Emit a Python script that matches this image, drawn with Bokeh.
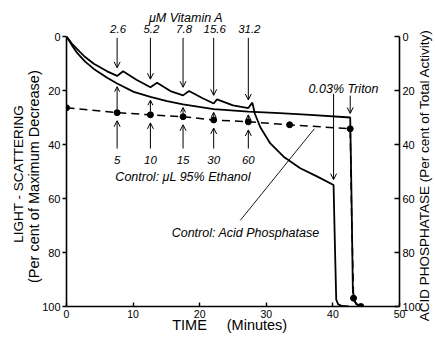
import math
import numpy as np
from bokeh.plotting import figure
from bokeh.models import Range1d, LinearAxis, Label, Arrow, OpenHead, FixedTicker
from bokeh.core.properties import value
from bokeh.embed import file_html
from bokeh.resources import INLINE

# ---------------- data ----------------
# Light scattering with Vitamin A additions (per cent of maximum decrease)
vita_t = [0, 0.8, 1.6, 2.8, 4.1, 6.1, 7.6, 8.5, 10.5, 12.6, 13.6, 15.6, 17.5, 18.4, 20.3,
          22.1, 22.6, 25.0, 27.3, 27.9, 28.3, 29.1, 30.6, 32.6, 35.1, 37.6, 40.1, 40.3,
          40.5, 40.8, 41.4, 42.4]
vita_y = [0, 2.6, 4.7, 7.6, 10.1, 12.9, 14.6, 12.9, 16.0, 18.8, 17.1, 20.2, 21.8, 20.2, 22.7,
          24.8, 23.3, 25.5, 26.5, 24.5, 28.7, 33.6, 39.6, 44.5, 48.8, 51.8, 55.0, 77.0,
          97.5, 99.2, 99.8, 100]
# Light scattering, control (ethanol additions)
ctrl_t = [0, 0.8, 1.6, 2.8, 4.1, 6.1, 7.6, 10.1, 12.6, 15.1, 17.5, 22.1, 27.3, 32.0, 36.6,
          42.6, 42.8, 43.0, 43.3, 43.8, 44.3]
ctrl_y = [0, 3.2, 6.1, 9.3, 12.0, 15.3, 17.4, 20.5, 22.4, 23.9, 25.1, 26.9, 27.8, 28.4, 29.0,
          30.0, 60.0, 94.5, 98.3, 99.6, 100]
# Control: acid phosphatase (per cent of total activity)
ap_t = [0, 7.6, 12.6, 17.5, 22.1, 27.3, 33.5, 42.6, 42.8, 43.1, 43.5, 44.2]
ap_y = [26.4, 28.2, 29.0, 29.7, 30.9, 31.6, 32.7, 34.2, 65.0, 96.9, 99.2, 100]
ap_dot = [True, True, True, True, True, True, True, True, False, True, False, True]

add_t = [7.6, 12.6, 17.5, 22.1, 27.3]
vita_labels = ["2.6", "5.2", "7.8", "15.6", "31.2"]
etoh_labels = ["5", "10", "15", "30", "60"]
triton_t = [40.1, 42.6]

x_ticks = [0, 10, 20, 30, 40, 50]
y_ticks = [0, 20, 40, 60, 80, 100]

# ---------------- figure ----------------
W, H = 435, 337
p = figure(width=W, height=H, x_range=Range1d(0, 50), y_range=Range1d(100, 0),
           output_backend="svg", toolbar_location=None)
p.min_border_left = 66
p.min_border_right = 36
p.min_border_top = 36
p.min_border_bottom = 31
p.outline_line_color = None
p.grid.visible = False
p.background_fill_color = "white"
p.border_fill_color = "white"

FONT = "Liberation Sans"


def style_axis(ax, size="11px"):
    ax.minor_tick_line_color = None
    ax.axis_line_width = 1.6
    ax.axis_line_color = "black"
    ax.major_tick_line_width = 1.4
    ax.major_tick_line_color = "black"
    ax.major_label_text_font = FONT
    ax.major_label_text_font_size = size
    ax.major_label_text_color = "black"


xa = p.xaxis[0]
xa.ticker = FixedTicker(ticks=x_ticks)
style_axis(xa, "10.5px")
xa.major_tick_in = 4
xa.major_tick_out = 0
xa.major_label_standoff = 3

ya = p.yaxis[0]
ya.ticker = FixedTicker(ticks=y_ticks)
style_axis(ya)
ya.major_tick_in = 0
ya.major_tick_out = 4
ya.major_label_standoff = 2

yr = LinearAxis(ticker=FixedTicker(ticks=y_ticks))
style_axis(yr)
yr.major_tick_in = 5
yr.major_tick_out = 0
yr.major_label_standoff = 3
p.add_layout(yr, "right")

# ---------------- curves ----------------
p.line(vita_t, vita_y, line_color="black", line_width=1.8)
p.line(ctrl_t, ctrl_y, line_color="black", line_width=1.8)
p.line(ap_t, ap_y, line_color="black", line_width=1.5, line_dash="8 5")
dot_t = [t for t, d in zip(ap_t, ap_dot) if d]
dot_y = [y for y, d in zip(ap_y, ap_dot) if d]
p.scatter(dot_t, dot_y, size=6, color="black")


def lookup(ts, ys, t):
    return float(np.interp(t, ts, ys))


def arrow(x, y0, y1, size=6):
    p.add_layout(Arrow(end=OpenHead(size=size, line_width=1, line_color="black"),
                       x_start=x, y_start=y0, x_end=x, y_end=y1,
                       line_width=1, line_color="black"))


def label(x, y, text, size="11px", style="italic", angle=0.0):
    p.add_layout(Label(x=x, y=y, text=text, text_font=FONT, text_font_size=size,
                       text_font_style=style, text_align="center", text_baseline="middle",
                       angle=angle, text_color="black"))


def otext(xs, ys, texts, size="11px", style="italic", angle=0.0):
    # text drawn outside the frame (overlay level)
    p.text(x=xs, y=ys, text=texts, text_font=value(FONT), text_font_size=value(size),
           text_font_style=style, text_align="center", text_baseline="middle",
           angle=angle, text_color="black", level="overlay")


# Vitamin A additions (down arrows)
for t in add_t:
    arrow(t, 0.5, lookup(vita_t, vita_y, t) - 3)
otext([t + 0.15 for t in add_t], [-2.6] * len(add_t), vita_labels, "11.5px")
otext([18.2], [-7.0], ["\u03bcM  Vitamin A"], "12.5px")

# Ethanol control additions (up arrows)
for t, lab in zip(add_t, etoh_labels):
    a = lookup(ap_t, ap_y, t)
    arrow(t, 41.5, a + 3)
    arrow(t, a - 1.2, lookup(ctrl_t, ctrl_y, t) + 1.2, size=5)
    label(t, 45.9, lab, "11.5px")
label(17.5, 51.9, "Control: \u03bcL 95% Ethanol", "12.5px")

# Triton
arrow(triton_t[0], 21.2, lookup(vita_t, vita_y, triton_t[0]) - 2)
arrow(triton_t[1], 21.9, lookup(ctrl_t, ctrl_y, triton_t[1]) - 1.5)
label(41.6, 19.3, "0.03% Triton", "12.5px")

# Control: acid phosphatase pointer
p.segment(x0=[26.1], y0=[68.1], x1=[37.2], y1=[34.2], line_color="black", line_width=0.9)
label(26.9, 72.6, "Control: Acid Phosphatase", "12.5px")

# Axis titles
otext([-7.21], [50.9], ["LIGHT - SCATTERING"], "13.5px", "normal", math.pi / 2)
otext([-4.95], [51.9], ["(Per cent of Maximum Decrease)"], "14.5px", "normal", math.pi / 2)
otext([53.7], [50.0], ["ACID  PHOSPHATASE  (Per cent of Total Activity)"], "13.5px", "normal",
      math.pi / 2)
otext([18.47], [107.0], ["TIME"], "14.5px", "normal")
otext([28.6], [107.0], ["(Minutes)"], "14.5px", "normal")

open("out.html", "w").write(file_html(p, INLINE))
